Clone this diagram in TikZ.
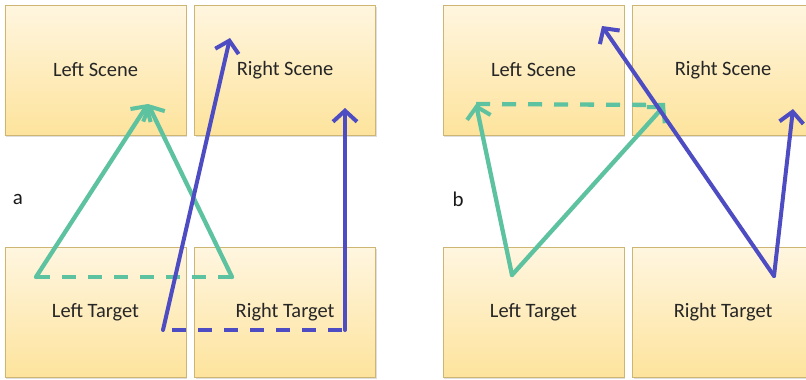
\documentclass[tikz,border=0pt]{standalone}
\usepackage{fontspec}
\setmainfont{Carlito}
\usetikzlibrary{arrows.meta, positioning, shadows}
\definecolor{boxTop}{HTML}{FFF6E0}
\definecolor{boxBot}{HTML}{FDE39C}
\definecolor{boxLine}{HTML}{CDB673}
\definecolor{eyeGreen}{HTML}{5CC29F}
\definecolor{eyeBlue}{HTML}{4D4CC2}

\begin{document}
\begin{tikzpicture}[
  x=1bp, y=-1bp,
  node distance=112bp and 8bp,
  field/.style={draw=boxLine, line width=0.6pt, top color=boxTop, bottom color=boxBot, minimum width=181bp, minimum height=130bp, inner sep=0pt, font=\fontsize{20.5}{22}\selectfont, text=black!85, drop shadow={opacity=0.25, shadow xshift=1bp, shadow yshift=-1.5bp}},
  tag/.style={font=\fontsize{21}{23}\selectfont, text=black!90},
  green/.style={draw=eyeGreen, line width=4.3bp, line cap=round, line join=round},
  blue/.style={draw=eyeBlue, line width=4bp, line cap=round, line join=round},
  tip/.style={-{Straight Barb[length=11bp, width=24bp, line width=4bp]}},
  gap/.style={dash pattern=on 14bp off 12bp, line cap=butt}
]
\useasboundingbox (0,0) rectangle (806,379);

% panel a
\node[field] (lscA) at (95.5,70) {Left Scene};
\node[field, right=of lscA] (rscA) {Right Scene};
\node[field, below=of lscA] (ltgA) {Left Target};
\node[field, right=of ltgA] (rtgA) {Right Target};
\node[tag] (labA) at (18,199) {a};

% panel b
\node[field] (lscB) at (533.5,70) {Left Scene};
\node[field, right=of lscB] (rscB) {Right Scene};
\node[field, below=of lscB] (ltgB) {Left Target};
\node[field, right=of ltgB] (rtgB) {Right Target};
\node[tag] (labB) at (458,199) {b};

% gaze points a
\coordinate (gA1) at (36,277);
\coordinate (gA2) at (232,277);
\coordinate (gTopA) at (148,104);
\coordinate (bA1) at (163,330);
\coordinate (bA2) at (345,330);
\coordinate (bTopA1) at (230,38);
\coordinate (bTopA2) at (345,108);

% gaze points b
\coordinate (gB1) at (512,275);
\coordinate (gTopB1) at (476,104);
\coordinate (gTopB2) at (665,105);
\coordinate (bB1) at (774,276);
\coordinate (bTopB1) at (602,26);
\coordinate (bTopB2) at (793,109);

% lines a
\draw[green, gap] (gA1) -- (gA2);
\draw[green, tip] (gA1) -- (gTopA);
\draw[green, tip] (gA2) -- (gTopA);
\draw[blue, gap] (bA1) ++(9,0) -- (bA2);
\draw[blue, tip] (bA1) -- (bTopA1);
\draw[blue, tip] (bA2) -- (bTopA2);

% lines b
\draw[green, gap] (gTopB1) -- (gTopB2);
\draw[green, tip] (gB1) -- (gTopB1);
\draw[green, tip] (gB1) -- (gTopB2);
\draw[blue, tip] (bB1) -- (bTopB1);
\draw[blue, tip] (bB1) -- (bTopB2);
\end{tikzpicture}
\end{document}
